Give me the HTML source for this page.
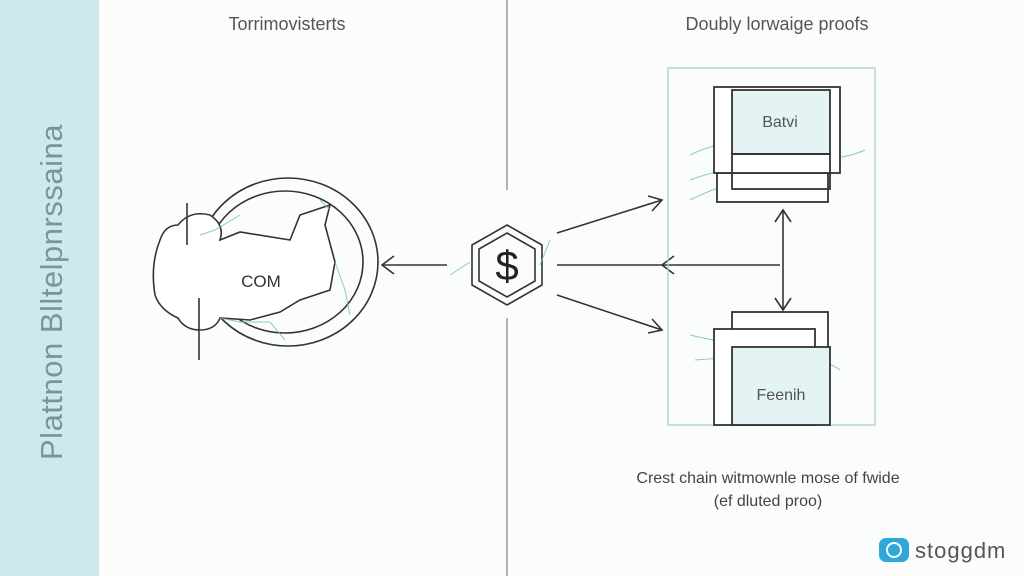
<!DOCTYPE html>
<html><head><meta charset="utf-8"><style>
html,body{margin:0;padding:0;background:#fbfdfd;}
svg{display:block;font-family:"Liberation Sans",sans-serif;}
</style></head><body>
<svg width="1024" height="576" viewBox="0 0 1024 576" xmlns="http://www.w3.org/2000/svg">
<rect width="1024" height="576" fill="#fbfdfd"/>
<rect x="0" y="0" width="99" height="576" fill="#cde9ec"/>
<text transform="translate(62,460) rotate(-90)" font-size="31" fill="#7a9599" letter-spacing="0.5">Plattnon  Blltelpnrssaina</text>
<line x1="507" y1="0" x2="507" y2="190" stroke="#999" stroke-width="1.5"/>
<line x1="507" y1="318" x2="507" y2="576" stroke="#999" stroke-width="1.5"/>
<text x="287" y="30" font-size="18" fill="#555" text-anchor="middle">Torrimovisterts</text>
<text x="777" y="30" font-size="18" fill="#555" text-anchor="middle">Doubly lorwaige proofs</text>
<g fill="none" stroke="#333" stroke-width="1.6">
<ellipse cx="288" cy="262" rx="90" ry="84"/>
<ellipse cx="285" cy="262" rx="78" ry="71"/>
<path d="M160,240 Q165,225 178,225 Q190,210 210,215 Q225,225 220,240 L240,232 L290,240 L300,215 L330,205 L325,225 L335,262 L330,290 L300,300 L280,312 L250,320 L220,318 Q215,330 200,330 Q185,330 178,318 Q160,310 155,295 Q150,265 160,240 Z" fill="#fff"/>
<line x1="187" y1="203" x2="187" y2="245"/>
<line x1="199" y1="298" x2="199" y2="360"/>
<line x1="447" y1="265" x2="382" y2="265"/>
<polyline points="394,256 382,265 394,274"/>
<polygon points="507,225 542,245 542,285 507,305 472,285 472,245"/>
<polygon points="507,233 535,249 535,281 507,297 479,281 479,249"/>
<line x1="557" y1="233" x2="662" y2="200"/>
<polyline points="648,196 662,200 652,211"/>
<line x1="557" y1="295" x2="662" y2="330"/>
<polyline points="652,319 662,330 648,333"/>
<line x1="557" y1="265" x2="780" y2="265"/>
<polyline points="674,256 662,265 674,274"/>
<line x1="783" y1="210" x2="783" y2="310"/>
<polyline points="775,222 783,210 791,222"/>
<polyline points="775,298 783,310 791,298"/>
</g>
<text x="261" y="287" font-size="17" fill="#333" text-anchor="middle">COM</text>
<text x="507" y="280" font-size="42" fill="#222" text-anchor="middle">$</text>
<g fill="none" stroke="#6cc0a8" stroke-width="1" opacity="0.8">
<path d="M200,235 L215,230 L240,215 M320,200 L330,210 M335,262 L345,290 L350,315 M220,318 L240,322 L270,322 L285,340 M450,275 L470,262 M540,265 L550,240"/>
<path d="M690,155 Q720,140 760,140 Q800,140 810,150 Q830,165 865,150 M690,180 Q730,165 760,170 M690,200 Q710,190 740,180 M690,335 Q730,345 760,342 M695,360 Q750,355 790,365 Q820,355 840,370"/>
</g>
<rect x="668" y="68" width="207" height="357" fill="none" stroke="#a8d0d0" stroke-width="1.3"/>
<g stroke="#333" stroke-width="1.8">
<rect x="717" y="173" width="111" height="29" fill="#fff"/>
<rect x="714" y="87" width="126" height="86" fill="#fff"/>
<rect x="732" y="90" width="98" height="64" fill="#e4f3f3"/>
<rect x="732" y="154" width="98" height="35" fill="none"/>
<rect x="732" y="312" width="96" height="40" fill="#fff"/>
<rect x="714" y="329" width="101" height="96" fill="#fff"/>
<rect x="732" y="347" width="98" height="78" fill="#e4f3f3"/>
</g>
<text x="780" y="127" font-size="16" fill="#555" text-anchor="middle">Batvi</text>
<text x="781" y="400" font-size="16" fill="#555" text-anchor="middle">Feenih</text>
<text x="768" y="483" font-size="16" fill="#444" text-anchor="middle">Crest chain witmownle mose of fwide</text>
<text x="768" y="506" font-size="16" fill="#444" text-anchor="middle">(ef dluted proo)</text>
<rect x="879" y="538" width="30" height="24" rx="7" fill="#2fa8d8"/>
<circle cx="894" cy="550" r="7" fill="none" stroke="#fff" stroke-width="2"/>
<text x="915" y="558" font-size="22" fill="#555" letter-spacing="1">stoggdm</text>
</svg>
</body></html>
